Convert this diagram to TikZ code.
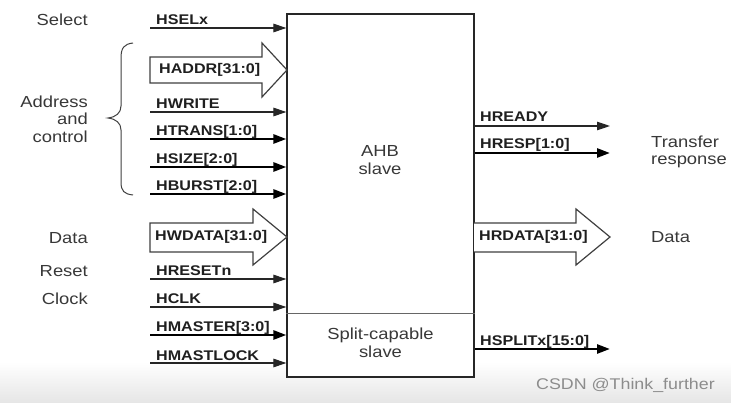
\documentclass[tikz,border=0pt]{standalone}
\usepackage{fontspec}
\setmainfont{Liberation Sans}[FakeStretch=1.15]
\usetikzlibrary{arrows.meta}
\begin{document}
\begin{tikzpicture}[x=1pt,y=-1pt,
  sig/.style={font=\bfseries\fontsize{14}{16}\selectfont, text=black!88, inner sep=0pt, anchor=base west},
  lbl/.style={font=\fontsize{16}{17.5}\selectfont, text=black!78, inner sep=0pt},
  thinarr/.style={line width=1.1pt, draw=black!85, -{Triangle[length=13pt,width=8.5pt]}},
  thickarr/.style={line width=2.6pt, draw=black, -{Triangle[length=13pt,width=9pt]}},
  bus/.style={line width=1.2pt, draw=black!75, fill=white, line join=miter},
]
\useasboundingbox (0,0) rectangle (731,403);
\fill[white] (0,0) rectangle (731,403);
\shade[top color=white, bottom color=black!10] (0,362) rectangle (731,403);

% slave box
\node[draw=black!85, line width=1.2pt, fill=white, minimum width=187pt, minimum height=363pt, inner sep=0pt] (slave) at (380.5,195.5) {};
\coordinate (div) at (0,314);
\draw[line width=1pt, black!60] (slave.west |- div) -- (slave.east |- div);
\node[lbl, align=center] (ahb) at (380,160) {AHB\\slave};
\node[lbl, align=center] (split) at (380.5,343) {Split-capable\\slave};

% left labels
\node[lbl, anchor=east] (lselect) at (88,20) {Select};
\node[lbl, anchor=east, align=right] (laddr) at (88,119) {Address\\and\\control};
\node[lbl, anchor=east] (ldata) at (88,238) {Data};
\node[lbl, anchor=east] (lreset) at (88,271) {Reset};
\node[lbl, anchor=east] (lclock) at (88,299) {Clock};

% brace
\draw[line width=1pt, black!75] (133,43) .. controls (124,44) and (121,48) .. (121,58) -- (121,106)
  .. controls (121,113) and (116,117) .. (108,118)
  .. controls (116,119) and (121,123) .. (121,130) -- (121,182)
  .. controls (121,191) and (124,194) .. (133,195);

% left thin / thick arrows
\coordinate (sel) at (150,28);
\draw[thinarr] (sel) -- (sel -| slave.west);
\node[sig] (tsel) at (156,25) {HSELx};

\coordinate (wr) at (150,112);
\draw[thinarr] (wr) -- (wr -| slave.west);
\node[sig] (twr) at (156,109) {HWRITE};

\coordinate (tr) at (150,139);
\draw[thickarr] (tr) -- (tr -| slave.west);
\node[sig] (ttr) at (156,136) {HTRANS[1:0]};

\coordinate (sz) at (150,167);
\draw[thickarr] (sz) -- (sz -| slave.west);
\node[sig] (tsz) at (156,164) {HSIZE[2:0]};

\coordinate (bu) at (150,194);
\draw[thickarr] (bu) -- (bu -| slave.west);
\node[sig] (tbu) at (156,191) {HBURST[2:0]};

\coordinate (rs) at (150,279);
\draw[thinarr] (rs) -- (rs -| slave.west);
\node[sig] (trs) at (156,276) {HRESETn};

\coordinate (ck) at (150,307);
\draw[thinarr] (ck) -- (ck -| slave.west);
\node[sig] (tck) at (156,304) {HCLK};

\coordinate (ma) at (150,335);
\draw[thickarr] (ma) -- (ma -| slave.west);
\node[sig] (tma) at (156,332) {HMASTER[3:0]};

\coordinate (ml) at (150,363);
\draw[thinarr] (ml) -- (ml -| slave.west);
\node[sig] (tml) at (156,360) {HMASTLOCK};

% big bus arrows (left)
\draw[bus] (150,57) -- (262,57) -- (262,43) -- (287,70) -- (262,97) -- (262,83) -- (150,83) -- cycle;
\node[sig, anchor=west] (taddr) at (159,70) {HADDR[31:0]};

\draw[bus] (150,223) -- (253,223) -- (253,209) -- (287,237) -- (253,265) -- (253,252) -- (150,252) -- cycle;
\node[sig, anchor=west] (twd) at (155,237) {HWDATA[31:0]};

% right side
\coordinate (rdy) at (610,126);
\draw[thinarr] (rdy -| slave.east) -- (rdy);
\node[sig] (trdy) at (480,122) {HREADY};

\coordinate (rsp) at (610,153);
\draw[thickarr] (rsp -| slave.east) -- (rsp);
\node[sig] (trsp) at (480,149) {HRESP[1:0]};

\coordinate (spl) at (610,349);
\draw[thickarr] (spl -| slave.east) -- (spl);
\node[sig] (tspl) at (480,345) {HSPLITx[15:0]};

\draw[bus] (474,223) -- (576,223) -- (576,209) -- (610,237) -- (576,265) -- (576,252) -- (474,252);
\node[sig, anchor=west] (trd) at (479,237) {HRDATA[31:0]};

\node[lbl, anchor=west, align=left] (ltr) at (651,152) {Transfer\\response};
\node[lbl, anchor=west] (lrdata) at (651,237) {Data};

\node[font=\fontsize{15.5}{17}\selectfont, text=black!45, inner sep=0pt, anchor=west] (wm) at (536,385) {CSDN @Think\_further};
\end{tikzpicture}
\end{document}
